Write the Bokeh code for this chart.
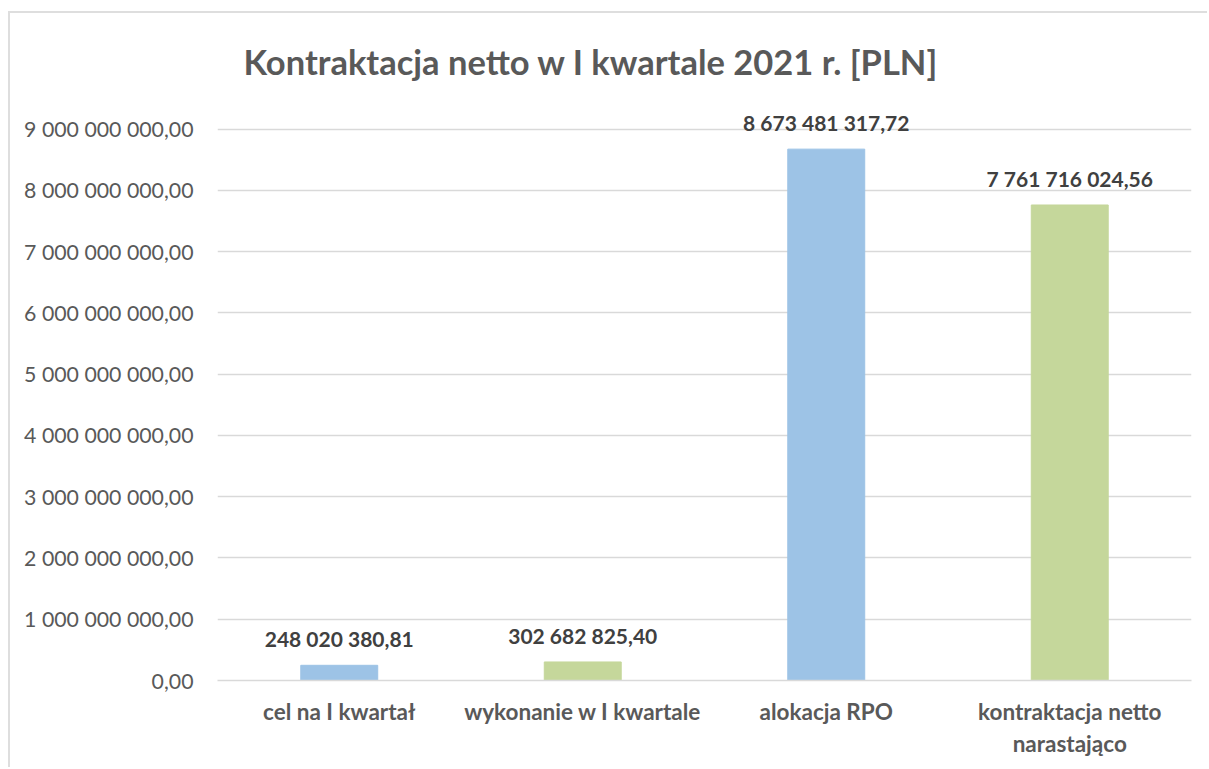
from bokeh.plotting import figure
from bokeh.models import ColumnDataSource, CustomJSTickFormatter, FixedTicker, Range1d
from bokeh.core.properties import value
from bokeh.embed import file_html
from bokeh.resources import INLINE

categories = ["cel na I kwartał", "wykonanie w I kwartale", "alokacja RPO", "kontraktacja netto\nnarastająco"]
values = [248020380.81, 302682825.40, 8673481317.72, 7761716024.56]
colors = ["#9DC3E6", "#C5D79B", "#9DC3E6", "#C5D79B"]
y_ticks = [i * 1_000_000_000 for i in range(10)]
title_text = "Kontraktacja netto w I kwartale 2021 r. [PLN]"


def fmt(v):
    return f"{v:,.2f}".replace(",", " ").replace(".", ",")


labels = [fmt(v) for v in values]
src = ColumnDataSource(dict(cat=categories, val=values, color=colors, label=labels))

FONT = "Lato"

p = figure(x_range=categories, y_range=Range1d(0, 9_500_000_000),
           width=1199, height=756, output_backend="svg", toolbar_location=None,
           min_border_left=207, min_border_right=18, min_border_top=85, min_border_bottom=89)

p.vbar(x="cat", top="val", width=0.316, color="color", source=src)
p.text(x="cat", y="val", text="label", source=src, text_align="center", text_baseline="bottom",
       y_offset=-14, text_font=value(FONT), text_font_style="bold",
       text_font_size="21px", text_color="#404040")

p.title.text = title_text
p.title.text_font = FONT
p.title.text_font_size = "34.5px"
p.title.text_font_style = "bold"
p.title.text_color = "#595959"
p.title.align = "left"
p.title.offset = 26
p.title.standoff = 33

p.outline_line_color = None
p.background_fill_color = "white"
p.border_fill_color = "white"

p.xgrid.grid_line_color = None
p.ygrid.grid_line_color = "#D9D9D9"
p.ygrid.grid_line_width = 1.5

p.yaxis.ticker = FixedTicker(ticks=y_ticks)
p.yaxis.formatter = CustomJSTickFormatter(code="""
const s = tick.toFixed(2).split('.');
return s[0].replace(/\\B(?=(\\d{3})+(?!\\d))/g, ' ') + ',' + s[1];
""")
p.yaxis.axis_line_color = None
p.yaxis.major_tick_line_color = None
p.yaxis.minor_tick_line_color = None
p.yaxis.major_tick_out = 0
p.yaxis.major_label_standoff = 24
p.yaxis.major_label_text_font = FONT
p.yaxis.major_label_text_font_size = "21.3px"
p.yaxis.major_label_text_color = "#595959"

p.xaxis.axis_line_color = "#D9D9D9"
p.xaxis.axis_line_width = 1.5
p.xaxis.major_tick_line_color = None
p.xaxis.minor_tick_line_color = None
p.xaxis.major_tick_out = 0
p.xaxis.major_label_standoff = 17
p.xaxis.major_label_text_font = FONT
p.xaxis.major_label_text_font_size = "22.5px"
p.xaxis.major_label_text_font_style = "bold"
p.xaxis.major_label_text_color = "#595959"
p.x_range.range_padding = 0

p.styles = {"margin-left": "8px", "margin-top": "11px",
            "border-left": "2px solid #DEDEDE", "border-top": "2px solid #DEDEDE"}

open("out.html", "w").write(file_html(p, INLINE))
